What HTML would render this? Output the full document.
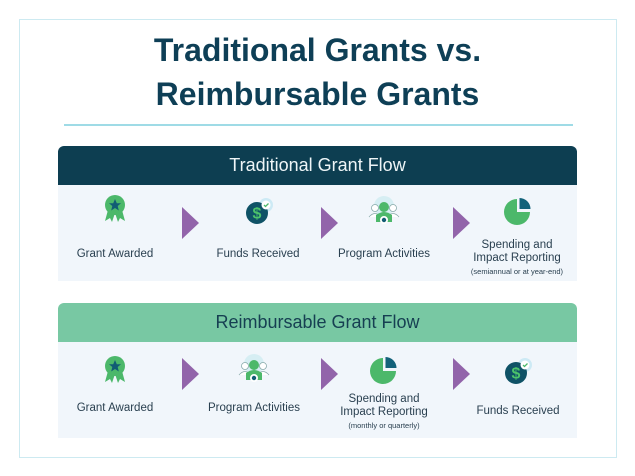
<!DOCTYPE html>
<html><head><meta charset="utf-8"><style>
*{margin:0;padding:0;box-sizing:border-box}
body{width:635px;height:476px;background:#fff;position:relative;overflow:hidden;font-family:"Liberation Sans",sans-serif;color:#22384a}
.a{position:absolute}
.t{position:absolute;text-align:center;white-space:nowrap;transform:translateX(-50%);font-size:11.5px;color:#2a4050}
.s{font-size:7.5px}
.arr{position:absolute;width:0;height:0;border-top:16px solid transparent;border-bottom:16px solid transparent;border-left:17px solid #9264aa}
</style></head><body>
<div class="a" style="left:19px;top:19px;width:598px;height:439px;border:1.5px solid #cdeaf1"></div>
<div class="a" style="left:0;width:635px;top:28px;text-align:center;font-size:32px;font-weight:bold;color:#0e3f56;line-height:44px">Traditional Grants vs.<br>Reimbursable Grants</div>
<div class="a" style="left:64px;top:124px;width:509px;height:1.5px;background:#9fdbe6"></div>

<div class="a" style="left:58px;top:146px;width:519px;height:39px;background:#0d3e51;border-radius:6px 6px 0 0;color:#eef5f7;font-size:18px;text-align:center;line-height:39px">Traditional Grant Flow</div>
<div class="a" style="left:58px;top:185px;width:519px;height:96px;background:#f1f6fb"></div>

<div class="a" style="left:58px;top:303px;width:519px;height:39px;background:#78c8a3;border-radius:6px 6px 0 0;color:#163f52;font-size:18px;text-align:center;line-height:39px">Reimbursable Grant Flow</div>
<div class="a" style="left:58px;top:342px;width:519px;height:96px;background:#f1f6fb"></div>

<div class="arr" style="left:182px;top:207px"></div>
<div class="arr" style="left:321px;top:207px"></div>
<div class="arr" style="left:453px;top:207px"></div>
<div class="arr" style="left:182px;top:358px"></div>
<div class="arr" style="left:321px;top:358px"></div>
<div class="arr" style="left:453px;top:358px"></div>

<svg class="a" style="left:0;top:0" width="635" height="476">
<defs>
<g id="award"><path d="M-7 5 L-10 16 L-5 13 L-3 17 L0 8 Z M7 5 L10 16 L5 13 L3 17 L0 8Z" fill="#4cb86a"/><circle r="10" fill="#4cb86a"/><path d="M0 -6 L1.8 -1.8 L6 -1.8 L2.7 1 L3.8 5.5 L0 3 L-3.8 5.5 L-2.7 1 L-6 -1.8 L-1.8 -1.8Z" fill="#115c74"/></g>
<g id="funds"><circle cx="9" cy="-8" r="7" fill="#cdeaf5"/><circle r="11" fill="#0f5266"/><text x="0" y="5.5" text-anchor="middle" font-size="16" font-weight="bold" fill="#4cc36a" font-family="Liberation Sans">$</text><circle cx="9" cy="-8" r="4.5" fill="#fff"/><path d="M7 -8 l1.5 1.5 l3 -3" stroke="#4cb86a" stroke-width="1.3" fill="none"/></g>
<g id="prog"><circle cy="-6" r="10" fill="#d6eef3"/><circle cx="-9" cy="-4" r="3.5" fill="#fff" stroke="#8aa" stroke-width=".8"/><circle cx="9" cy="-4" r="3.5" fill="#fff" stroke="#8aa" stroke-width=".8"/><path d="M-15 5 q6-7 12 0 M3 5 q6-7 12 0" stroke="#8aa" stroke-width=".8" fill="#fff"/><circle cy="-5" r="5" fill="#4cb86a"/><path d="M-8 10 L-8 3 Q0 -3 8 3 L8 10Z" fill="#4cb86a"/><circle cy="8" r="4" fill="#fff"/><circle cy="8" r="2.2" fill="#115c74"/></g>
<g id="pie"><path d="M-1 -12 A13 13 0 1 0 12 1 L-1 1Z" fill="#4cb86a"/><path d="M1.5 -13 A11 11 0 0 1 12.5 -2 L1.5 -2Z" fill="#13627a"/></g>
</defs>
<use href="#award" x="115" y="205"/>
<use href="#funds" x="257" y="213"/>
<use href="#prog" x="384" y="212"/>
<use href="#pie" x="518" y="211"/>
<use href="#award" x="115" y="366"/>
<use href="#prog" x="254" y="370"/>
<use href="#pie" x="384" y="370"/>
<use href="#funds" x="516" y="373"/>
</svg>

<div class="t" style="left:115px;top:248px">Grant Awarded</div>
<div class="t" style="left:258px;top:248px">Funds Received</div>
<div class="t" style="left:384px;top:248px">Program Activities</div>
<div class="t" style="left:517px;top:239px;line-height:13px">Spending and<br>Impact Reporting<br><span class="s">(semiannual or at year-end)</span></div>

<div class="t" style="left:115px;top:402px">Grant Awarded</div>
<div class="t" style="left:254px;top:402px">Program Activities</div>
<div class="t" style="left:384px;top:393px;line-height:13px">Spending and<br>Impact Reporting<br><span class="s">(monthly or quarterly)</span></div>
<div class="t" style="left:518px;top:405px">Funds Received</div>
</body></html>
